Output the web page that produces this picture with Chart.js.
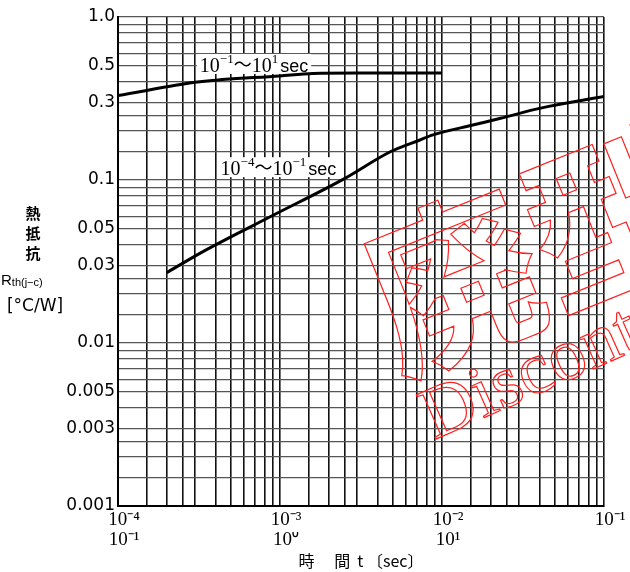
<!DOCTYPE html>
<html><head><meta charset="utf-8">
<script src="https://cdn.jsdelivr.net/npm/chart.js@4.4.1/dist/chart.umd.min.js"></script>
<style>html,body{margin:0;padding:0;background:#fff;overflow:hidden}#wrap{width:630px;height:572px;position:relative;background:#fff}</style>
</head><body><div id="wrap"><canvas id="c" width="630" height="572"></canvas></div>
<script>
// ---- data ----
const shortTime = [2e-4, 3.2e-4, 8.7e-4, 2.5e-3, 4.8e-3, 7.3e-3, 8.8e-3, 1.55e-2, 2.3e-2, 4e-2, 1e-1]; // sec (10^-4 .. 10^-1 scale)
const shortRth  = [0.027, 0.0355, 0.0595, 0.102, 0.149, 0.176, 0.189, 0.2175, 0.239, 0.275, 0.325];
const longTime  = [0.1, 0.32, 1, 1.6, 3, 10]; // sec (10^-1 .. 10^2 scale)
const longRth   = [0.33, 0.40, 0.435, 0.45, 0.453, 0.453];
const shortRange = [-4, -1];   // exponents of the range label
const longRange  = [-1, 1];
const yTickLabels = [0.001, 0.003, 0.005, 0.01, 0.03, 0.05, 0.1, 0.3, 0.5, 1.0];
const xTopLabels = [1e-4, 1e-3, 1e-2, 1e-1];
const xBottomLabels = [0.1, 1, 10];
const gridSteps = [1, 1.5, 2, 2.5, 3, 4, 5, 6, 7, 8, 9];
const xTitle = '時　 間  t 〔sec〕';
const yTitleLines = ['熱', '抵', '抗'];

// ---- helpers ----
const SUP = {'-':'⁻','0':'⁰','1':'¹','2':'²','3':'³','4':'⁴','5':'⁵','6':'⁶','7':'⁷','8':'⁸','9':'⁹'};
const pow10Label = v => '10' + String(Math.round(Math.log10(v))).split('').map(c => SUP[c]).join('');
const same = (a, b) => Math.abs(Math.log10(a / b)) < 1e-6;
function gridValues(e0, e1) {
  const out = [];
  for (let e = e0; e < e1; e++) for (const m of gridSteps) out.push(+(m * Math.pow(10, e)).toPrecision(4));
  out.push(+Math.pow(10, e1).toPrecision(4));
  return out;
}
const rangeName = r => '10' + String(r[0]).replace('-', '−') + '～10' + String(r[1]).replace('-', '−') + 'sec';

function drawRangeLabel(ctx, r, x, base) {
  const segs = [
    {t: '10', f: '20px "Liberation Serif"', dy: 0},
    {t: String(r[0]).replace('-', '−'), f: '13px "Liberation Serif"', dy: -9},
    {t: '～', f: '18px "Noto Sans CJK JP"', dy: -1},
    {t: '10', f: '20px "Liberation Serif"', dy: 0},
    {t: String(r[1]).replace('-', '−'), f: '13px "Liberation Serif"', dy: -9},
    {t: 'sec', f: '18px "Liberation Sans"', dy: 0, gap: 2}
  ];
  let w = 0;
  for (const s of segs) { ctx.font = s.f; s.w = ctx.measureText(s.t).width; w += s.w + (s.gap || 0); }
  ctx.fillStyle = '#fff';
  ctx.fillRect(x - 3, base - 18, w + 6, 20);
  ctx.fillStyle = '#000';
  ctx.textBaseline = 'alphabetic';
  ctx.textAlign = 'left';
  let cx = x;
  for (const s of segs) { cx += (s.gap || 0); ctx.font = s.f; ctx.fillText(s.t, cx, base + s.dy); cx += s.w; }
}

const curveLabels = {
  id: 'curveLabels',
  beforeDatasetsDraw(chart) {
    const {ctx, scales} = chart;
    ctx.save();
    drawRangeLabel(ctx, longRange, scales.x2.getPixelForValue(0.32), scales.y.getPixelForValue(0.46));
    drawRangeLabel(ctx, shortRange, scales.x.getPixelForValue(4.3e-4), scales.y.getPixelForValue(0.107));
    ctx.restore();
  }
};

const yTitle = {
  id: 'yTitle',
  afterDraw(chart) {
    const ctx = chart.ctx;
    ctx.save();
    ctx.fillStyle = '#000';
    ctx.textBaseline = 'middle';
    ctx.textAlign = 'center';
    ctx.font = 'bold 15px "Noto Sans CJK JP"';
    yTitleLines.forEach((t, i) => ctx.fillText(t, 33, 213 + i * 20));
    ctx.textAlign = 'left';
    ctx.font = '15px "Liberation Sans"';
    ctx.fillText('R', 1, 281);
    const wR = ctx.measureText('R').width;
    ctx.font = '11px "Liberation Sans"';
    ctx.fillText('th(j−c)', 1 + wR, 283);
    ctx.textAlign = 'center';
    ctx.font = '17px "DejaVu Sans"';
    ctx.fillText('[°C/W]', 35, 307);
    ctx.restore();
  }
};

const stamp = {
  id: 'stamp',
  afterDraw(chart) {
    const ctx = chart.ctx;
    ctx.save();
    ctx.strokeStyle = '#ff2020';
    ctx.lineWidth = 1.2;
    ctx.translate(398, 374);
    ctx.rotate(-22 * Math.PI / 180);
    ctx.font = 'bold 172px "Noto Sans CJK JP"';
    ctx.textBaseline = 'alphabetic';
    ctx.strokeText('廃型', 0, 0);
    ctx.restore();
    ctx.save();
    ctx.strokeStyle = '#ff2020';
    ctx.lineWidth = 1.2;
    ctx.translate(434, 440);
    ctx.rotate(-24 * Math.PI / 180);
    ctx.font = '74px "Liberation Serif"';
    ctx.strokeText('Discontinued', 0, 0);
    ctx.restore();
  }
};

new Chart(document.getElementById('c'), {
  type: 'line',
  data: {
    datasets: [
      {label: rangeName(shortRange), data: shortTime.map((t, i) => ({x: t, y: shortRth[i]})), xAxisID: 'x', yAxisID: 'y',
       borderColor: '#000', borderWidth: 3, pointRadius: 0, cubicInterpolationMode: 'monotone', fill: false},
      {label: rangeName(longRange), data: longTime.map((t, i) => ({x: t, y: longRth[i]})), xAxisID: 'x2', yAxisID: 'y',
       borderColor: '#000', borderWidth: 3, pointRadius: 0, cubicInterpolationMode: 'monotone', fill: false}
    ]
  },
  options: {
    responsive: false, animation: false, devicePixelRatio: 1,
    layout: {padding: {top: 17, right: 26, bottom: 0, left: 0}},
    plugins: {legend: {display: false}, tooltip: {enabled: false}},
    scales: {
      x: {
        type: 'logarithmic', position: 'bottom', min: 1e-4, max: 0.1, weight: 0,
        afterBuildTicks: s => { s.ticks = gridValues(-4, -1).map(v => ({value: v})); },
        afterFit: s => { s.height = 26; },
        ticks: {autoSkip: false, maxRotation: 0, minRotation: 0, padding: 5, labelOffset: 6, color: '#000',
          font: {family: '"Liberation Serif"', size: 19, lineHeight: 1},
          callback: v => { const l = xTopLabels.find(t => same(t, v)); return l === undefined ? '' : pow10Label(l); }},
        grid: {color: '#111', lineWidth: 1.6, drawTicks: false, tickLength: 0},
        border: {display: true, color: '#000', width: 2}
      },
      x2: {
        type: 'logarithmic', position: 'bottom', min: 0.1, max: 100, weight: 1,
        afterBuildTicks: s => { s.ticks = gridValues(-1, 2).map(v => ({value: v})); },
        afterFit: s => { s.height = 40; },
        ticks: {autoSkip: false, maxRotation: 0, minRotation: 0, padding: -1, labelOffset: 6, color: '#000',
          font: {family: '"Liberation Serif"', size: 19, lineHeight: 1},
          callback: v => { const l = xBottomLabels.find(t => same(t, v)); return l === undefined ? '' : pow10Label(l); }},
        grid: {display: false, drawTicks: false, tickLength: 0},
        border: {display: false},
        title: {display: true, text: xTitle, color: '#000',
          font: {family: '"Noto Sans CJK JP"', size: 16, lineHeight: 1.2}, padding: {top: 0, bottom: 1}}
      },
      y: {
        type: 'logarithmic', position: 'left', min: 0.001, max: 1,
        afterBuildTicks: s => { s.ticks = gridValues(-3, 0).map(v => ({value: v})); },
        afterFit: s => { s.width = 118; },
        ticks: {autoSkip: false, padding: 3, color: '#000',
          font: {family: '"DejaVu Sans"', size: 17},
          callback: v => { const l = yTickLabels.find(t => same(t, v)); return l === undefined ? '' : (l === 1 ? '1.0' : String(l)); }},
        grid: {color: '#555', lineWidth: 1.2, drawTicks: false, tickLength: 0},
        border: {display: true, color: '#000', width: 2}
      }
    }
  },
  plugins: [curveLabels, yTitle, stamp]
});
</script></body></html>
